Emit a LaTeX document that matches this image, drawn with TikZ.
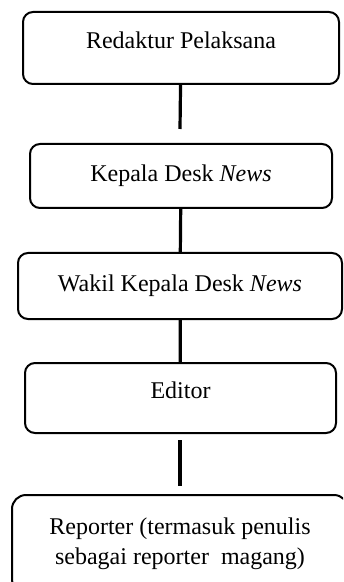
\documentclass[tikz,border=0pt]{standalone}
\usepackage{fontspec}
\setmainfont{Liberation Serif}
\usetikzlibrary{positioning}

\begin{document}
\begin{tikzpicture}[x=0.5pt,y=-0.5pt,
            box/.style={rectangle,draw,line width=1pt,rounded corners=5pt,align=center,font=\fontsize{12pt}{15pt}\selectfont}]
            \clip (0,0) rectangle (343,582);
            \node [box,minimum width=158pt,minimum height=36pt,text height=8pt,text depth=7pt] (rp) at (181,48) {Redaktur Pelaksana};
            \node [box,minimum width=151pt,minimum height=32pt] (kd) at (181,176) {Kepala Desk \textit{News}};
            \node [box,minimum width=162pt,minimum height=33pt] (wk) at (180,286) {Wakil Kepala Desk \textit{News}};
            \node [box,minimum width=155.5pt,minimum height=35pt,text height=8pt,text depth=8pt] (ed) at (180.5,398) {Editor};
            \node [box,rounded corners=7pt,minimum width=168pt,minimum height=49pt] (rep) at (180,544) {Reporter (termasuk penulis\\sebagai reporter\ \ magang)};
            \coordinate (gap) at (180,129);
            \coordinate (gapa) at (180,440);
            \coordinate (gapb) at (180,486);

            \path[-,line width=1.6pt]
            (rp) edge (gap)
            (kd) edge (wk)
            (wk) edge (ed)
            (gapa) edge (gapb)
            ;

        \end{tikzpicture}
\end{document}
